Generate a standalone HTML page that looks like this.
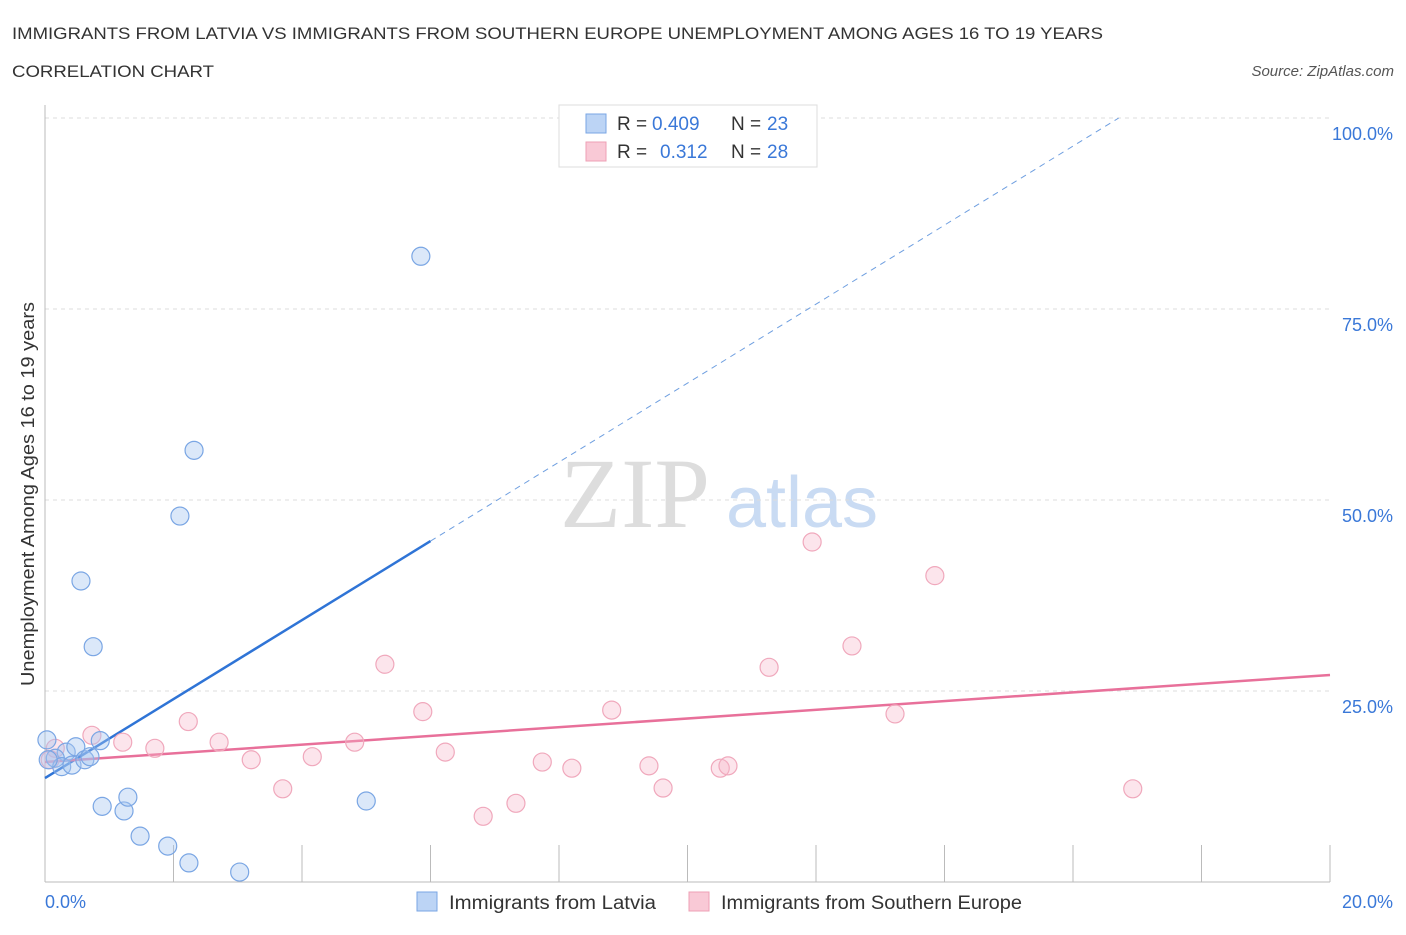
<!DOCTYPE html>
<html><head><meta charset="utf-8"><style>
body{margin:0;background:#fff;font-family:"Liberation Sans",sans-serif;}
</style></head><body>
<svg width="1406" height="930" xmlns="http://www.w3.org/2000/svg" font-family="Liberation Sans, sans-serif">
<text x="12" y="39" font-size="17" fill="#333" textLength="1091" lengthAdjust="spacingAndGlyphs">IMMIGRANTS FROM LATVIA VS IMMIGRANTS FROM SOUTHERN EUROPE UNEMPLOYMENT AMONG AGES 16 TO 19 YEARS</text>
<text x="12" y="77" font-size="17" fill="#333" textLength="202" lengthAdjust="spacingAndGlyphs">CORRELATION CHART</text>
<text x="1394" y="76" font-size="15" fill="#555" font-style="italic" text-anchor="end">Source: ZipAtlas.com</text>
<text x="635" y="527" font-size="100" fill="#ddd" font-family="Liberation Serif, serif" text-anchor="middle">ZIP</text>
<text x="802" y="527" font-size="72" fill="#c9dbf3" text-anchor="middle">atlas</text>
<g id="grid"></g>
<g id="axes"></g>
<g id="lines"></g>
<g id="pts"></g>
<text x="34" y="494" font-size="18" fill="#333" text-anchor="middle" textLength="384" lengthAdjust="spacingAndGlyphs" transform="rotate(-90 34 494)">Unemployment Among Ages 16 to 19 years</text>
<text x="45" y="908" font-size="18" fill="#3a78d8">0.0%</text>
<text x="1393" y="908" font-size="18" fill="#3a78d8" text-anchor="end">20.0%</text>
<g>
<rect x="559" y="105" width="258" height="62" fill="#fff" stroke="#ddd"/>
<rect x="586" y="114" width="20" height="19" fill="#bcd4f5" stroke="#7aa6e4"/>
<rect x="586" y="142" width="20" height="19" fill="#f9c9d6" stroke="#eea0b5"/>
<text x="617" y="130" font-size="19" fill="#333">R = <tspan x="652" fill="#3a78d8">0.409</tspan><tspan x="731">N = </tspan><tspan x="767" fill="#3a78d8">23</tspan></text>
<text x="617" y="158" font-size="19" fill="#333">R = <tspan x="660" fill="#3a78d8">0.312</tspan><tspan x="731">N = </tspan><tspan x="767" fill="#3a78d8">28</tspan></text>
</g>
<g>
<rect x="417" y="892" width="20" height="19" fill="#bcd4f5" stroke="#7aa6e4"/>
<text x="449" y="909" font-size="19" fill="#333" textLength="207" lengthAdjust="spacingAndGlyphs">Immigrants from Latvia</text>
<rect x="689" y="892" width="20" height="19" fill="#f9c9d6" stroke="#eea0b5"/>
<text x="721" y="909" font-size="19" fill="#333" textLength="301" lengthAdjust="spacingAndGlyphs">Immigrants from Southern Europe</text>
</g>
</svg>
<script>
const yTicks=[25,50,75,100];
const yTickLabels=["25.0%","50.0%","75.0%","100.0%"];
const latviaX=[5.85,2.32,2.10,0.56,0.75,0.03,0.33,0.48,0.86,0.16,0.26,0.42,0.62,0.70,0.89,1.23,1.29,1.48,1.91,2.24,3.03,5.00,0.05];
const latviaY=[81.9,56.5,47.9,39.4,30.8,18.6,17.0,17.7,18.5,16.2,15.1,15.3,16.0,16.4,9.9,9.3,11.1,6.0,4.7,2.5,1.3,10.6,16.0];
const southX=[11.94,13.85,12.56,11.27,5.29,13.23,8.82,5.88,2.23,0.73,1.21,1.71,2.71,3.21,4.16,4.82,6.23,3.70,6.82,7.33,7.74,8.20,9.40,9.62,10.51,10.63,16.93,0.16,0.08];
const southY=[44.5,40.1,30.9,28.1,28.5,22.0,22.5,22.3,21.0,19.2,18.3,17.5,18.3,16.0,16.4,18.3,17.0,12.2,8.6,10.3,15.7,14.9,15.2,12.3,14.9,15.2,12.2,17.5,16.0];
const latviaTrend=[13.6,5.17];
const southTrend=[15.7,0.57];
const NS="http://www.w3.org/2000/svg";
const sx=v=>45+v/20*1285;
const sy=v=>882-v/100*764;
function mk(tag,attrs,parent){const e=document.createElementNS(NS,tag);for(const k in attrs)e.setAttribute(k,attrs[k]);parent.appendChild(e);return e;}
const grid=document.getElementById('grid'),axes=document.getElementById('axes'),lines=document.getElementById('lines'),pts=document.getElementById('pts');
yTicks.forEach((t,i)=>{
 const l=mk('line',{x1:45,x2:1330,y1:sy(t),y2:sy(t),stroke:'#ddd','stroke-dasharray':'4,4'},grid);
 
 
 const tx=mk('text',{x:1393,y:sy(t)+22,'font-size':18,fill:'#3a78d8','text-anchor':'end'},grid);
 tx.textContent=yTickLabels[i];
 
 
});
mk('line',{x1:45,x2:45,y1:105,y2:882,stroke:'#bbb'},axes);
mk('line',{x1:45,x2:1330,y1:882,y2:882,stroke:'#bbb'},axes);
for(let i=1;i<=10;i++){const t=mk('line',{x1:sx(i*2),x2:sx(i*2),y1:845,y2:882,stroke:'#bbb'},axes);
 
 }
const lf=x=>latviaTrend[0]+latviaTrend[1]*x;
const sf=x=>southTrend[0]+southTrend[1]*x;
const xEnd=(100-latviaTrend[0])/latviaTrend[1];
const ld=mk('line',{x1:sx(6),y1:sy(lf(6)),x2:sx(xEnd),y2:sy(100),stroke:'#6f9fe0','stroke-width':1,'stroke-dasharray':'6,5'},lines);


const ls=mk('line',{x1:sx(0),y1:sy(lf(0)),x2:sx(6),y2:sy(lf(6)),stroke:'#2f74d6','stroke-width':2.5},lines);


const ps=mk('line',{x1:sx(0),y1:sy(sf(0)),x2:sx(20),y2:sy(sf(20)),stroke:'#e8709a','stroke-width':2.5},lines);


southX.forEach((x,i)=>{const c=mk('circle',{cx:sx(x),cy:sy(southY[i]),r:9,fill:'rgba(246,180,200,0.35)',stroke:'#f0a8bc','stroke-width':1.2},pts);
 
 });
latviaX.forEach((x,i)=>{const c=mk('circle',{cx:sx(x),cy:sy(latviaY[i]),r:9,fill:'rgba(165,198,240,0.4)',stroke:'#7aa6e4','stroke-width':1.2},pts);
 
 });
</script>
</body></html>
